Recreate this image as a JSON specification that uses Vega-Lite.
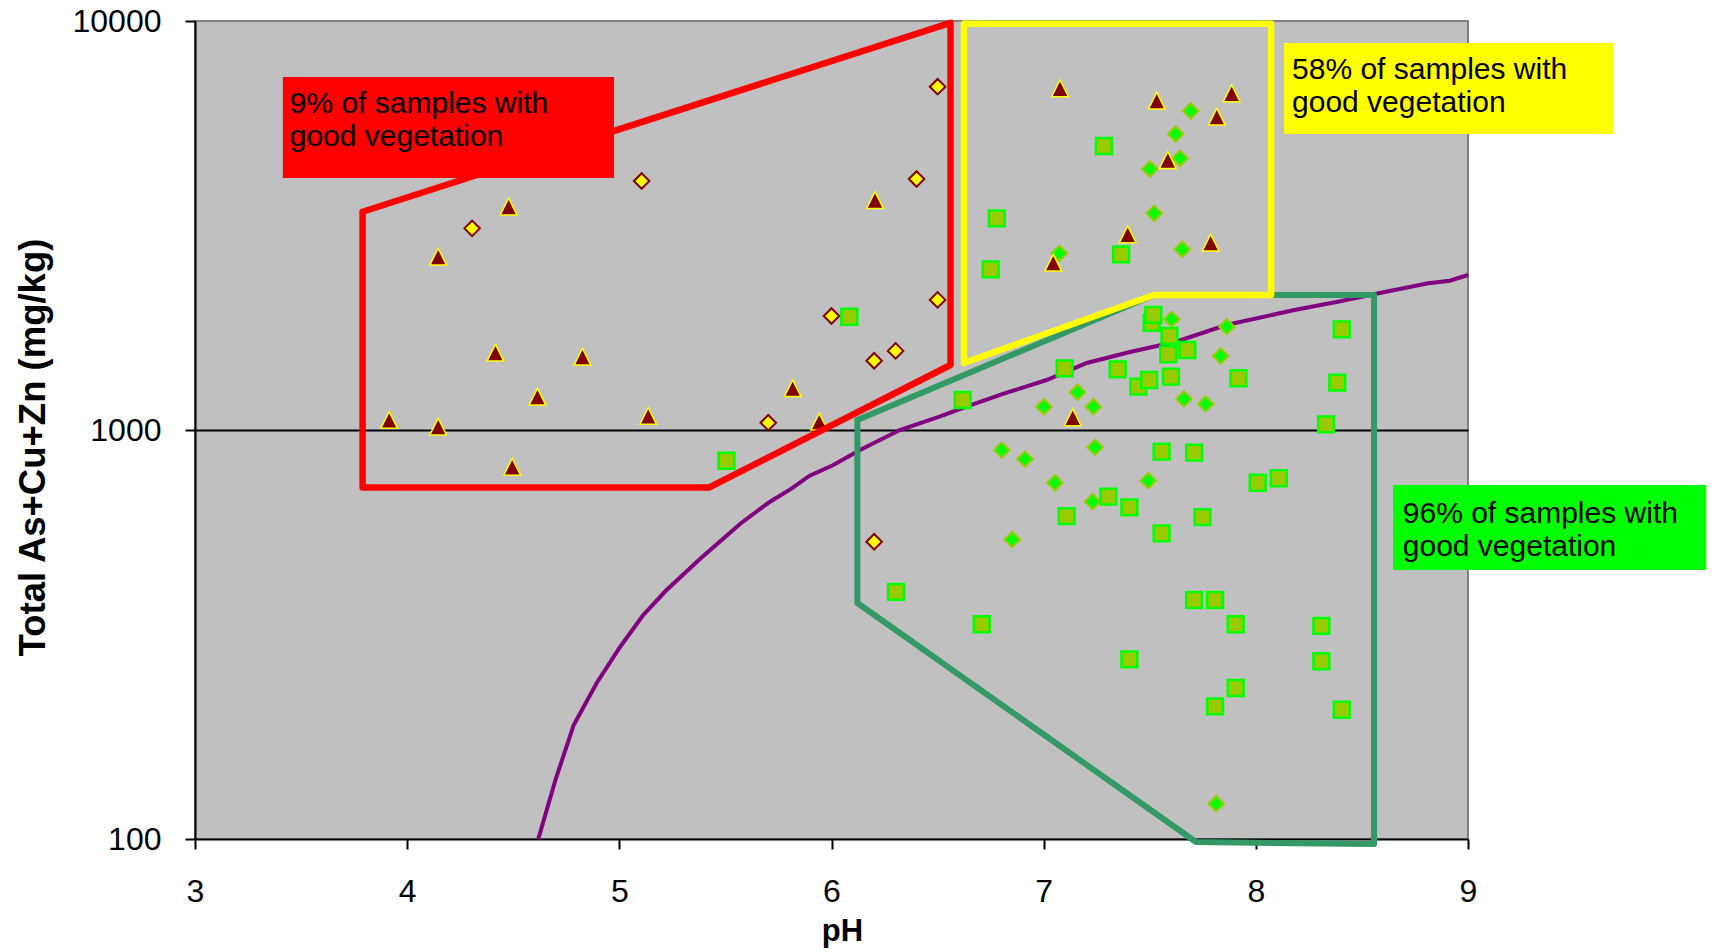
{
  "$schema": "https://vega.github.io/schema/vega-lite/v6.json",
  "width": 1273,
  "height": 818,
  "autosize": {"type": "none"},
  "padding": {"left": 195, "top": 21, "right": 248, "bottom": 113},
  "background": "white",
  "config": {
    "view": {"fill": "#C0C0C0", "stroke": "#808080", "strokeWidth": 2},
    "font": "Liberation Sans"
  },
  "datasets": {
    "pts": [
      {"pH": 4.478, "v": 3516, "s": "tri"}, {"pH": 4.146, "v": 2653, "s": "tri"}, {"pH": 4.416, "v": 1545, "s": "tri"},
      {"pH": 4.826, "v": 1511, "s": "tri"}, {"pH": 4.614, "v": 1206, "s": "tri"}, {"pH": 3.915, "v": 1058, "s": "tri"},
      {"pH": 4.146, "v": 1019, "s": "tri"}, {"pH": 5.136, "v": 1082, "s": "tri"}, {"pH": 5.817, "v": 1265, "s": "tri"},
      {"pH": 5.942, "v": 1048, "s": "tri"}, {"pH": 4.495, "v": 813, "s": "tri"}, {"pH": 6.205, "v": 3650, "s": "tri"},
      {"pH": 7.077, "v": 6845, "s": "tri"}, {"pH": 7.533, "v": 6385, "s": "tri"}, {"pH": 7.886, "v": 6655, "s": "tri"},
      {"pH": 7.816, "v": 5834, "s": "tri"}, {"pH": 7.585, "v": 4572, "s": "tri"}, {"pH": 7.396, "v": 3010, "s": "tri"},
      {"pH": 7.787, "v": 2871, "s": "tri"}, {"pH": 7.045, "v": 2564, "s": "tri"}, {"pH": 7.137, "v": 1074, "s": "tri"},
      {"pH": 5.105, "v": 4063, "s": "yd"}, {"pH": 4.306, "v": 3112, "s": "yd"}, {"pH": 6.0, "v": 1900, "s": "yd"},
      {"pH": 5.702, "v": 1042, "s": "yd"}, {"pH": 6.5, "v": 6909, "s": "yd"}, {"pH": 6.401, "v": 4109, "s": "yd"},
      {"pH": 6.5, "v": 2080, "s": "yd"}, {"pH": 6.302, "v": 1561, "s": "yd"}, {"pH": 6.201, "v": 1477, "s": "yd"},
      {"pH": 6.201, "v": 533, "s": "yd"},
      {"pH": 7.693, "v": 6026, "s": "gd"}, {"pH": 7.622, "v": 5293, "s": "gd"}, {"pH": 7.643, "v": 4616, "s": "gd"},
      {"pH": 7.501, "v": 4346, "s": "gd"}, {"pH": 7.521, "v": 3387, "s": "gd"}, {"pH": 7.074, "v": 2704, "s": "gd"},
      {"pH": 7.653, "v": 2766, "s": "gd"}, {"pH": 7.603, "v": 1865, "s": "gd"}, {"pH": 7.863, "v": 1789, "s": "gd"},
      {"pH": 7.834, "v": 1517, "s": "gd"}, {"pH": 7.16, "v": 1237, "s": "gd"}, {"pH": 7.001, "v": 1140, "s": "gd"},
      {"pH": 7.234, "v": 1140, "s": "gd"}, {"pH": 7.661, "v": 1191, "s": "gd"}, {"pH": 7.764, "v": 1158, "s": "gd"},
      {"pH": 6.802, "v": 893, "s": "gd"}, {"pH": 6.912, "v": 849, "s": "gd"}, {"pH": 7.242, "v": 907, "s": "gd"},
      {"pH": 7.053, "v": 743, "s": "gd"}, {"pH": 7.493, "v": 752, "s": "gd"}, {"pH": 7.231, "v": 668, "s": "gd"},
      {"pH": 6.852, "v": 540, "s": "gd"}, {"pH": 7.813, "v": 122, "s": "gd"},
      {"pH": 5.505, "v": 841, "s": "sq"}, {"pH": 6.084, "v": 1892, "s": "sq"}, {"pH": 7.284, "v": 4948, "s": "sq"},
      {"pH": 6.779, "v": 3293, "s": "sq"}, {"pH": 6.75, "v": 2471, "s": "sq"}, {"pH": 7.365, "v": 2689, "s": "sq"},
      {"pH": 6.618, "v": 1184, "s": "sq"}, {"pH": 7.099, "v": 1415, "s": "sq"}, {"pH": 7.349, "v": 1407, "s": "sq"},
      {"pH": 7.446, "v": 1276, "s": "sq"}, {"pH": 7.497, "v": 1325, "s": "sq"}, {"pH": 7.509, "v": 1829, "s": "sq"},
      {"pH": 7.517, "v": 1911, "s": "sq"}, {"pH": 7.593, "v": 1698, "s": "sq"}, {"pH": 7.587, "v": 1531, "s": "sq"},
      {"pH": 7.677, "v": 1569, "s": "sq"}, {"pH": 7.6, "v": 1350, "s": "sq"}, {"pH": 7.918, "v": 1338, "s": "sq"},
      {"pH": 8.405, "v": 1763, "s": "sq"}, {"pH": 8.384, "v": 1305, "s": "sq"}, {"pH": 8.331, "v": 1032, "s": "sq"},
      {"pH": 7.556, "v": 885, "s": "sq"}, {"pH": 7.709, "v": 880, "s": "sq"}, {"pH": 8.009, "v": 743, "s": "sq"},
      {"pH": 8.108, "v": 762, "s": "sq"}, {"pH": 7.305, "v": 687, "s": "sq"}, {"pH": 7.404, "v": 647, "s": "sq"},
      {"pH": 7.108, "v": 616, "s": "sq"}, {"pH": 7.748, "v": 612, "s": "sq"}, {"pH": 7.556, "v": 559, "s": "sq"},
      {"pH": 6.304, "v": 402, "s": "sq"}, {"pH": 7.709, "v": 384, "s": "sq"}, {"pH": 7.808, "v": 384, "s": "sq"},
      {"pH": 6.708, "v": 335, "s": "sq"}, {"pH": 7.905, "v": 335, "s": "sq"}, {"pH": 8.309, "v": 332, "s": "sq"},
      {"pH": 7.404, "v": 275, "s": "sq"}, {"pH": 8.309, "v": 272, "s": "sq"}, {"pH": 7.905, "v": 234, "s": "sq"},
      {"pH": 7.808, "v": 211, "s": "sq"}, {"pH": 8.405, "v": 207, "s": "sq"}
    ],
    "curve": [
      {"ord": 1, "pH": 4.618, "v": 100}, {"ord": 2, "pH": 4.699, "v": 139.5}, {"ord": 3, "pH": 4.785, "v": 190},
      {"ord": 4, "pH": 4.894, "v": 241}, {"ord": 5, "pH": 5.002, "v": 294}, {"ord": 6, "pH": 5.111, "v": 352},
      {"ord": 7, "pH": 5.219, "v": 404.5}, {"ord": 8, "pH": 5.38, "v": 483.8}, {"ord": 9, "pH": 5.57, "v": 590},
      {"ord": 10, "pH": 5.705, "v": 665}, {"ord": 11, "pH": 5.813, "v": 720}, {"ord": 12, "pH": 5.895, "v": 772},
      {"ord": 13, "pH": 6.004, "v": 819}, {"ord": 14, "pH": 6.139, "v": 896}, {"ord": 15, "pH": 6.322, "v": 1000},
      {"ord": 16, "pH": 6.509, "v": 1078}, {"ord": 17, "pH": 6.656, "v": 1151}, {"ord": 18, "pH": 6.822, "v": 1232},
      {"ord": 19, "pH": 7.014, "v": 1325}, {"ord": 20, "pH": 7.203, "v": 1458}, {"ord": 21, "pH": 7.412, "v": 1554},
      {"ord": 22, "pH": 7.624, "v": 1644}, {"ord": 23, "pH": 7.86, "v": 1806}, {"ord": 24, "pH": 8.182, "v": 1965},
      {"ord": 25, "pH": 8.386, "v": 2059}, {"ord": 26, "pH": 8.59, "v": 2166}, {"ord": 27, "pH": 8.812, "v": 2284},
      {"ord": 28, "pH": 8.914, "v": 2317}, {"ord": 29, "pH": 9.0, "v": 2393}
    ],
    "polys": [
      {"zone": "red", "ord": 1, "pH": 3.79, "v": 3417}, {"zone": "red", "ord": 2, "pH": 6.561, "v": 9900},
      {"zone": "red", "ord": 3, "pH": 6.561, "v": 1442}, {"zone": "red", "ord": 4, "pH": 5.422, "v": 723},
      {"zone": "red", "ord": 5, "pH": 3.79, "v": 723}, {"zone": "red", "ord": 6, "pH": 3.79, "v": 3417},
      {"zone": "yellow", "ord": 1, "pH": 6.624, "v": 9850}, {"zone": "yellow", "ord": 2, "pH": 6.624, "v": 1458},
      {"zone": "yellow", "ord": 3, "pH": 7.519, "v": 2138}, {"zone": "yellow", "ord": 4, "pH": 8.072, "v": 2138},
      {"zone": "yellow", "ord": 5, "pH": 8.072, "v": 9850}, {"zone": "yellow", "ord": 6, "pH": 6.624, "v": 9850},
      {"zone": "green", "ord": 1, "pH": 6.122, "v": 1058}, {"zone": "green", "ord": 2, "pH": 7.52, "v": 2138},
      {"zone": "green", "ord": 3, "pH": 8.557, "v": 2138}, {"zone": "green", "ord": 4, "pH": 8.557, "v": 97.2},
      {"zone": "green", "ord": 5, "pH": 7.718, "v": 98.3}, {"zone": "green", "ord": 6, "pH": 6.122, "v": 377.6},
      {"zone": "green", "ord": 7, "pH": 6.122, "v": 1058}
    ],
    "boxes": [
      {"zone": "red", "pH": 3.414, "pH2": 4.975, "v": 7297, "v2": 4131, "tx": 3.4465, "ty": 5946, "label": ["9% of samples with", "good vegetation"]},
      {"zone": "yellow", "pH": 8.133, "pH2": 9.685, "v": 8835, "v2": 5292, "tx": 8.1707, "ty": 7215, "label": ["58% of samples with", "good vegetation"]},
      {"zone": "green", "pH": 8.647, "pH2": 10.123, "v": 733.7, "v2": 454.7, "tx": 8.6926, "ty": 592.4, "label": ["96% of samples with", "good vegetation"]}
    ]
  },
  "encoding": {
    "x": {
      "field": "pH", "type": "quantitative",
      "scale": {"type": "linear", "domain": [3, 9], "nice": false, "zero": false},
      "axis": {
        "title": "pH", "values": [3, 4, 5, 6, 7, 8, 9], "format": "d", "grid": false,
        "domainColor": "black", "domainWidth": 2, "tickColor": "black", "tickWidth": 2, "tickSize": 10,
        "labelFont": "Liberation Sans", "labelFontSize": 32, "labelColor": "black", "labelPadding": 27, "labelFlush": false,
        "titleFont": "Liberation Sans", "titleFontSize": 31, "titleFontWeight": "bold", "titleColor": "black", "titlePadding": 9,
        "titleX": 647
      }
    },
    "y": {
      "field": "v", "type": "quantitative",
      "scale": {"type": "log", "domain": [100, 10000], "nice": false},
      "axis": {
        "title": "Total As+Cu+Zn  (mg/kg)", "values": [100, 1000, 10000], "format": "d",
        "grid": true, "gridWidth": 2,
        "gridColor": {"condition": {"test": "datum.value === 1000", "value": "black"}, "value": "rgba(0,0,0,0)"},
        "domainColor": "black", "domainWidth": 2, "tickColor": "black", "tickWidth": 2, "tickSize": 10,
        "labelFont": "Liberation Sans", "labelFontSize": 32, "labelColor": "black", "labelPadding": 24, "labelFlush": false,
        "titleFont": "Liberation Sans", "titleFontSize": 36.5, "titleFontWeight": "bold", "titleColor": "black", "titlePadding": 20,
        "titleY": 426
      }
    }
  },
  "layer": [
    {
      "data": {"name": "curve"},
      "mark": {"type": "line", "color": "#800080", "strokeWidth": 4},
      "encoding": {"order": {"field": "ord", "type": "quantitative"}}
    },
    {
      "data": {"name": "pts"},
      "transform": [{"filter": "datum.s === 'gd'"}],
      "mark": {"type": "point", "shape": "diamond", "filled": true, "fill": "#00FF00", "stroke": "#99CC00", "strokeWidth": 2, "size": 240, "opacity": 1}
    },
    {
      "data": {"name": "pts"},
      "transform": [{"filter": "datum.s === 'yd'"}],
      "mark": {"type": "point", "shape": "diamond", "filled": true, "fill": "#FFFF00", "stroke": "#800000", "strokeWidth": 2, "size": 240, "opacity": 1}
    },
    {
      "data": {"name": "pts"},
      "transform": [{"filter": "datum.s === 'sq'"}],
      "mark": {"type": "point", "shape": "square", "filled": true, "fill": "#99CC00", "stroke": "#00FF00", "strokeWidth": 2.5, "size": 250, "opacity": 1}
    },
    {
      "data": {"name": "pts"},
      "transform": [{"filter": "datum.s === 'tri'"}],
      "mark": {"type": "point", "shape": "M0,-1L1,1L-1,1Z", "filled": true, "fill": "#800000", "stroke": "#FFFF00", "strokeWidth": 1.5, "size": 280, "opacity": 1}
    },
    {
      "data": {"name": "polys"},
      "transform": [{"filter": "datum.zone === 'green'"}],
      "mark": {"type": "line", "color": "#339966", "strokeWidth": 6, "strokeJoin": "round", "strokeCap": "round"},
      "encoding": {"order": {"field": "ord", "type": "quantitative"}}
    },
    {
      "data": {"name": "polys"},
      "transform": [{"filter": "datum.zone === 'red'"}],
      "mark": {"type": "line", "color": "#FF0000", "strokeWidth": 6.5, "strokeJoin": "round", "strokeCap": "round"},
      "encoding": {"order": {"field": "ord", "type": "quantitative"}}
    },
    {
      "data": {"name": "polys"},
      "transform": [{"filter": "datum.zone === 'yellow'"}],
      "mark": {"type": "line", "color": "#FFFF00", "strokeWidth": 6.5, "strokeJoin": "round", "strokeCap": "round"},
      "encoding": {"order": {"field": "ord", "type": "quantitative"}}
    },
    {
      "data": {"name": "boxes"},
      "mark": {"type": "rect"},
      "encoding": {
        "x2": {"field": "pH2"},
        "y2": {"field": "v2"},
        "fill": {"field": "zone", "type": "nominal", "scale": {"domain": ["red", "yellow", "green"], "range": ["#FF0000", "#FFFF00", "#00FF00"]}, "legend": null}
      }
    },
    {
      "data": {"name": "boxes"},
      "mark": {"type": "text", "align": "left", "baseline": "alphabetic", "font": "Liberation Sans", "fontSize": 30, "lineHeight": 33, "color": "black"},
      "encoding": {
        "x": {"field": "tx", "type": "quantitative"},
        "y": {"field": "ty", "type": "quantitative"},
        "text": {"field": "label"}
      }
    }
  ]
}
